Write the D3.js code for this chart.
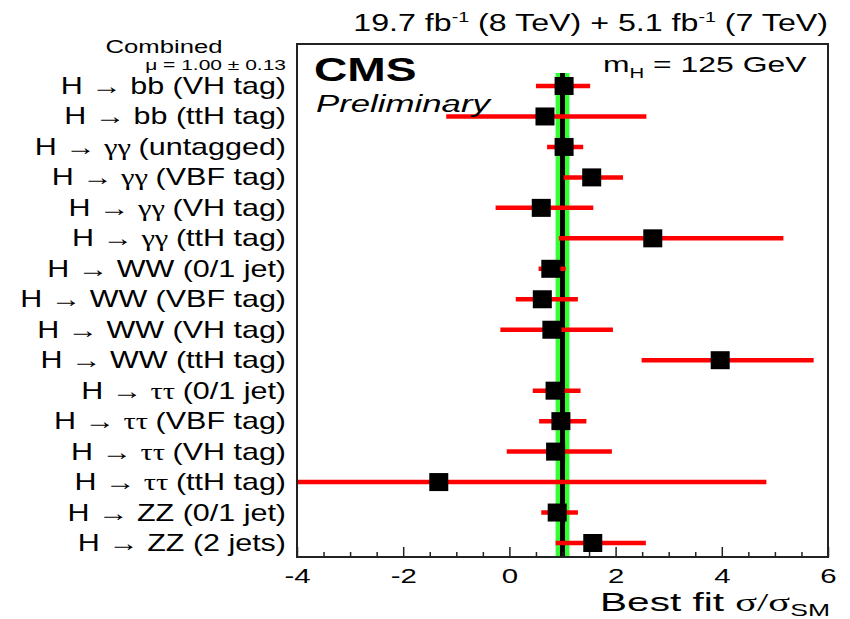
<!DOCTYPE html>
<html><head><meta charset="utf-8">
<script src="https://cdn.jsdelivr.net/npm/d3@7"></script>
<style>body{margin:0;background:#fff}svg{display:block}text{font-family:"Liberation Sans",Arial,sans-serif}</style>
</head><body>
<svg id="c" width="850" height="619"></svg>
<script>
// Data
const channels = [
  ["bb","(VH tag)"],["bb","(ttH tag)"],
  ["γγ","(untagged)"],["γγ","(VBF tag)"],["γγ","(VH tag)"],["γγ","(ttH tag)"],
  ["WW","(0/1 jet)"],["WW","(VBF tag)"],["WW","(VH tag)"],["WW","(ttH tag)"],
  ["ττ","(0/1 jet)"],["ττ","(VBF tag)"],["ττ","(VH tag)"],["ττ","(ttH tag)"],
  ["ZZ","(0/1 jet)"],["ZZ","(2 jets)"]
];
const bestFit = [1.03,0.67,1.03,1.55,0.60,2.70,0.78,0.62,0.80,3.97,0.86,0.97,0.87,-1.33,0.90,1.57];
const errLow  = [0.50,-1.19,0.71,1.02,-0.26,0.93,0.55,0.12,-0.17,2.49,0.44,0.56,-0.05,-6.8,0.60,0.87];
const errHigh = [1.52,2.58,1.39,2.14,1.58,5.16,1.06,1.29,1.95,5.73,1.34,1.45,1.93,4.84,1.29,2.57];
const combined = {mu:1.00, lo:0.87, hi:1.13};
const xTicks = [-4,-2,0,2,4,6];

const svg = d3.select("#c");
const x = d3.scaleLinear().domain([-4,6]).range([297,828]);
const y = d3.scalePoint().domain(d3.range(channels.length)).range([86,543]);
const plotTop = 44, plotBottom = 557;

function T(px,py,size,anchor,sx){
  return svg.append("text").attr("transform",`translate(${px},${py}) scale(${sx},1)`)
    .attr("text-anchor",anchor).attr("font-size",size);
}

// clip
svg.append("clipPath").attr("id","clip").append("rect")
  .attr("x",x(-4)).attr("y",plotTop).attr("width",x(6)-x(-4)).attr("height",plotBottom-plotTop);
const g = svg.append("g").attr("clip-path","url(#clip)");

// combined band
g.append("rect").attr("x",x(combined.lo)).attr("y",73)
  .attr("width",x(combined.hi)-x(combined.lo)).attr("height",plotBottom-73).attr("fill","#33ff33");
g.append("line").attr("x1",x(combined.mu)).attr("x2",x(combined.mu)).attr("y1",73).attr("y2",plotBottom)
  .attr("stroke","#000").attr("stroke-width",5);

// error bars
g.selectAll("line.err").data(bestFit).join("line").attr("class","err")
  .attr("x1",(d,i)=>x(errLow[i])).attr("x2",(d,i)=>x(errHigh[i]))
  .attr("y1",(d,i)=>y(i)).attr("y2",(d,i)=>y(i))
  .attr("stroke","#ff0000").attr("stroke-width",4.5);
// markers
const mw=19, mh=18;
g.selectAll("rect.m").data(bestFit).join("rect").attr("class","m")
  .attr("x",d=>x(d)-mw/2).attr("y",(d,i)=>y(i)-mh/2).attr("width",mw).attr("height",mh).attr("fill","#000");

// frame
svg.append("rect").attr("x",x(-4)).attr("y",plotTop).attr("width",x(6)-x(-4)).attr("height",plotBottom-plotTop)
  .attr("fill","none").attr("stroke","#222").attr("stroke-width",2);

// axes
const minor = d3.range(-4,6.01,0.5).filter(v=>Math.abs(v/2-Math.round(v/2))>1e-6);
svg.append("g").attr("transform",`translate(0,${plotBottom})`)
  .call(d3.axisBottom(x).tickValues(minor).tickSize(-5).tickFormat(""))
  .call(a=>a.select(".domain").remove())
  .call(a=>a.selectAll("line").attr("stroke","#222").attr("stroke-width",1.5));
svg.append("g").attr("transform",`translate(0,${plotBottom})`)
  .call(d3.axisBottom(x).tickValues(xTicks).tickSizeInner(-10).tickSizeOuter(0).tickPadding(11)
        .tickFormat(d=>(d<0?"-":"")+Math.abs(d)))
  .call(a=>a.select(".domain").remove())
  .call(a=>a.selectAll("line").attr("stroke","#222").attr("stroke-width",1.5))
  .call(a=>a.selectAll("text").attr("font-size",21).attr("fill","#000")
        .attr("transform","scale(1.4,1)").attr("font-family","Liberation Sans, Arial, sans-serif"));

// x title
const xt = T(830,611,26,"end",1.56);
xt.append("tspan").text("Best fit ");
xt.append("tspan").attr("font-family","Liberation Serif, serif").text("σ/σ");
xt.append("tspan").attr("font-size",17).attr("dy",5).text("SM");

// top title
const tt = T(828,31,23,"end",1.4);
tt.append("tspan").text("19.7 fb");
tt.append("tspan").attr("font-size",14).attr("dy",-9).text("-1");
tt.append("tspan").attr("dy",9).text(" (8 TeV) +  5.1 fb");
tt.append("tspan").attr("font-size",14).attr("dy",-9).text("-1");
tt.append("tspan").attr("dy",9).text(" (7 TeV)");

T(314,81,33,"start",1.4).attr("font-weight","bold").text("CMS");
T(316,112,24,"start",1.45).attr("font-style","italic").text("Preliminary");
const mhT = T(603,72,22,"start",1.45);
mhT.append("tspan").text("m");
mhT.append("tspan").attr("font-size",14).attr("dy",6).text("H");
mhT.append("tspan").attr("dy",-6).text(" = 125 GeV");

// left labels
T(164,53,19,"middle",1.35).text("Combined");
T(286,70,14,"end",1.5).text(`μ = ${combined.mu.toFixed(2)} ± ${(combined.hi-combined.mu).toFixed(2)}`);

channels.forEach((d,i)=>{
  const t = T(286, y(i)+8, 24, "end", 1.27);
  t.append("tspan").text("H → ");
  const greek = /[γτ]/.test(d[0]);
  t.append("tspan").attr("font-family", greek ? "Liberation Serif, serif" : null)
    .text(greek ? d[0]+"  " : d[0]+" ");
  t.append("tspan").text(d[1]);
});
</script>
</body></html>
